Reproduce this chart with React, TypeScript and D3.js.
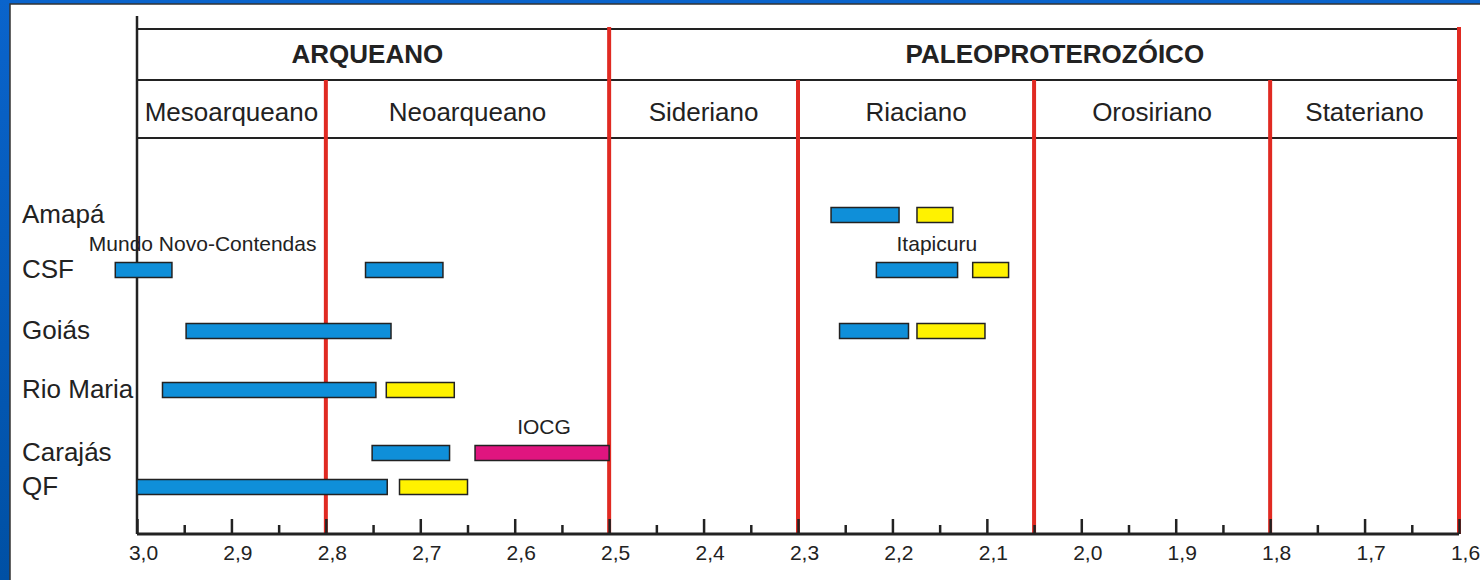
import { useEffect, useRef } from "react";
import * as d3 from "d3";

// Eras (Ga)
const eraNames = ["ARQUEANO", "PALEOPROTEROZÓICO"];
const eraStart = [3.0, 2.5];
const eraEnd = [2.5, 1.6];
const eraLabelAge = [2.756, 2.028];

// Periods (Ga)
const periodNames = [
  "Mesoarqueano",
  "Neoarqueano",
  "Sideriano",
  "Riaciano",
  "Orosiriano",
  "Stateriano",
];
const periodStart = [3.0, 2.8, 2.5, 2.3, 2.05, 1.8];
const periodEnd = [2.8, 2.5, 2.3, 2.05, 1.8, 1.6];

// Regions
const rows = ["Amapá", "CSF", "Goiás", "Rio Maria", "Carajás", "QF"];

// Age bars (Ga)
const barRow = [
  "Amapá", "Amapá",
  "CSF", "CSF", "CSF", "CSF",
  "Goiás", "Goiás", "Goiás",
  "Rio Maria", "Rio Maria",
  "Carajás", "Carajás",
  "QF", "QF",
];
const barFrom = [
  2.265, 2.174,
  3.023, 2.758, 2.217, 2.115,
  2.948, 2.256, 2.174,
  2.973, 2.736,
  2.751, 2.642,
  3.0, 2.722,
];
const barTo = [
  2.193, 2.136,
  2.963, 2.676, 2.131, 2.077,
  2.731, 2.183, 2.102,
  2.747, 2.664,
  2.669, 2.5,
  2.735, 2.65,
];
const barKind = [
  "blue", "yellow",
  "blue", "blue", "blue", "yellow",
  "blue", "blue", "yellow",
  "blue", "yellow",
  "blue", "iocg",
  "blue", "yellow",
];

// Annotations
const noteText = ["Mundo Novo-Contendas", "Itapicuru", "IOCG"];
const noteRow = ["CSF", "CSF", "Carajás"];
const noteAge = [3.051, 2.153, 2.569];
const noteAnchor = ["start", "middle", "middle"];

// Axis ticks
const majorTicks = [3.0, 2.9, 2.8, 2.7, 2.6, 2.5, 2.4, 2.3, 2.2, 2.1, 2.0, 1.9, 1.8, 1.7, 1.6];

const kindColor: Record<string, string> = {
  blue: "#0f8fd9",
  yellow: "#fff200",
  iocg: "#e0157f",
};

const RED = "#e02a22";
const INK = "#222";

export default function App() {
  const svgRef = useRef<SVGSVGElement>(null);

  useEffect(() => {
    if (!svgRef.current) return;
    const width = 1480;
    const height = 580;
    const svg = d3.select(svgRef.current);
    svg.selectAll("*").remove();
    svg.attr("width", width).attr("height", height);

    const font = "'Liberation Sans', Arial, sans-serif";

    // Background
    const defs = svg.append("defs");
    const grad = defs
      .append("linearGradient")
      .attr("id", "bg")
      .attr("x1", 0)
      .attr("y1", 0)
      .attr("x2", 0)
      .attr("y2", 1);
    grad.append("stop").attr("offset", "0%").attr("stop-color", "#0a64cc");
    grad.append("stop").attr("offset", "100%").attr("stop-color", "#0050a4");
    svg.append("rect").attr("width", width).attr("height", height).attr("fill", "url(#bg)");
    svg
      .append("rect")
      .attr("x", 10)
      .attr("y", 4)
      .attr("width", width)
      .attr("height", height)
      .attr("fill", "#fff")
      .attr("stroke", "#333")
      .attr("stroke-width", 1.5);

    const x = d3.scaleLinear().domain([3.0, 1.6]).range([137, 1459]);
    const y = d3
      .scaleOrdinal<string, number>()
      .domain(rows)
      .range([215, 270, 331, 390, 453, 487]);

    const axisY = 534;
    const headTop = 29;
    const headMid = 80;
    const headBot = 138;

    const g = svg.append("g").attr("font-family", font);

    // Header lines
    [headTop, headMid, headBot].forEach((yy) => {
      g.append("line")
        .attr("x1", x(3.0))
        .attr("x2", x(1.6))
        .attr("y1", yy)
        .attr("y2", yy)
        .attr("stroke", INK)
        .attr("stroke-width", 2.2);
    });

    // Left vertical axis line
    g.append("line")
      .attr("x1", x(3.0))
      .attr("x2", x(3.0))
      .attr("y1", 16)
      .attr("y2", axisY)
      .attr("stroke", INK)
      .attr("stroke-width", 2.5);

    // Era boundaries (red, full height)
    const eraBounds = Array.from(new Set([...eraEnd]));
    eraBounds.forEach((a) => {
      g.append("line")
        .attr("x1", x(a))
        .attr("x2", x(a))
        .attr("y1", headTop - 2)
        .attr("y2", axisY)
        .attr("stroke", RED)
        .attr("stroke-width", 4);
    });

    // Period boundaries (red, below era row)
    periodEnd
      .filter((a) => !eraBounds.includes(a))
      .forEach((a) => {
        g.append("line")
          .attr("x1", x(a))
          .attr("x2", x(a))
          .attr("y1", headMid)
          .attr("y2", axisY)
          .attr("stroke", RED)
          .attr("stroke-width", 4);
      });

    // Era labels
    eraNames.forEach((name, i) => {
      g.append("text")
        .attr("x", x(eraLabelAge[i]))
        .attr("y", 63)
        .attr("text-anchor", "middle")
        .attr("font-size", "26px")
        .attr("font-weight", "bold")
        .attr("fill", INK)
        .text(name);
    });

    // Period labels
    periodNames.forEach((name, i) => {
      g.append("text")
        .attr("x", (x(periodStart[i]) + x(periodEnd[i])) / 2)
        .attr("y", 121)
        .attr("text-anchor", "middle")
        .attr("font-size", "26px")
        .attr("fill", INK)
        .text(name);
    });

    // Row labels
    rows.forEach((r) => {
      g.append("text")
        .attr("x", 22)
        .attr("y", y(r) + 8)
        .attr("font-size", "26px")
        .attr("fill", INK)
        .text(r);
    });

    // Bars
    const barH = 15;
    barRow.forEach((r, i) => {
      const x0 = x(barFrom[i]);
      const x1 = x(barTo[i]);
      g.append("rect")
        .attr("x", Math.min(x0, x1))
        .attr("y", y(r) - barH / 2)
        .attr("width", Math.abs(x1 - x0))
        .attr("height", barH)
        .attr("fill", kindColor[barKind[i]])
        .attr("stroke", INK)
        .attr("stroke-width", 1.5);
    });

    // Annotations
    noteText.forEach((t, i) => {
      g.append("text")
        .attr("x", x(noteAge[i]))
        .attr("y", y(noteRow[i]) - 19)
        .attr("text-anchor", noteAnchor[i])
        .attr("font-size", "21px")
        .attr("fill", INK)
        .text(t);
    });

    // Bottom axis
    const fmt = (d: d3.NumberValue) => d3.format(".1f")(+d).replace(".", ",");
    const minorTicks = majorTicks.slice(1).map((t, i) => (t + majorTicks[i]) / 2);

    const minorAxis = d3
      .axisBottom(x)
      .tickValues(minorTicks)
      .tickSize(-9)
      .tickFormat(() => "");
    const majorAxis = d3
      .axisBottom(x)
      .tickValues(majorTicks)
      .tickSize(-15)
      .tickPadding(11)
      .tickFormat(fmt);

    const ga = g.append("g").attr("transform", `translate(0,${axisY})`);
    ga.call(minorAxis);
    ga.selectAll(".domain").remove();
    ga.selectAll("line").attr("stroke", INK).attr("stroke-width", 2.5);

    const gb = g.append("g").attr("transform", `translate(0,${axisY})`);
    gb.call(majorAxis);
    gb.selectAll(".domain").remove();
    gb.selectAll("line").attr("stroke", INK).attr("stroke-width", 2.5);
    gb.selectAll("text")
      .attr("font-family", font)
      .attr("font-size", "21px")
      .attr("fill", INK)
      .attr("dx", 6);

    g.append("line")
      .attr("x1", x(3.0))
      .attr("x2", x(1.6))
      .attr("y1", axisY)
      .attr("y2", axisY)
      .attr("stroke", INK)
      .attr("stroke-width", 3);
  }, []);

  return (
    <div style={{ position: "absolute", left: 0, top: 0 }}>
      <svg ref={svgRef} style={{ display: "block" }} />
    </div>
  );
}
